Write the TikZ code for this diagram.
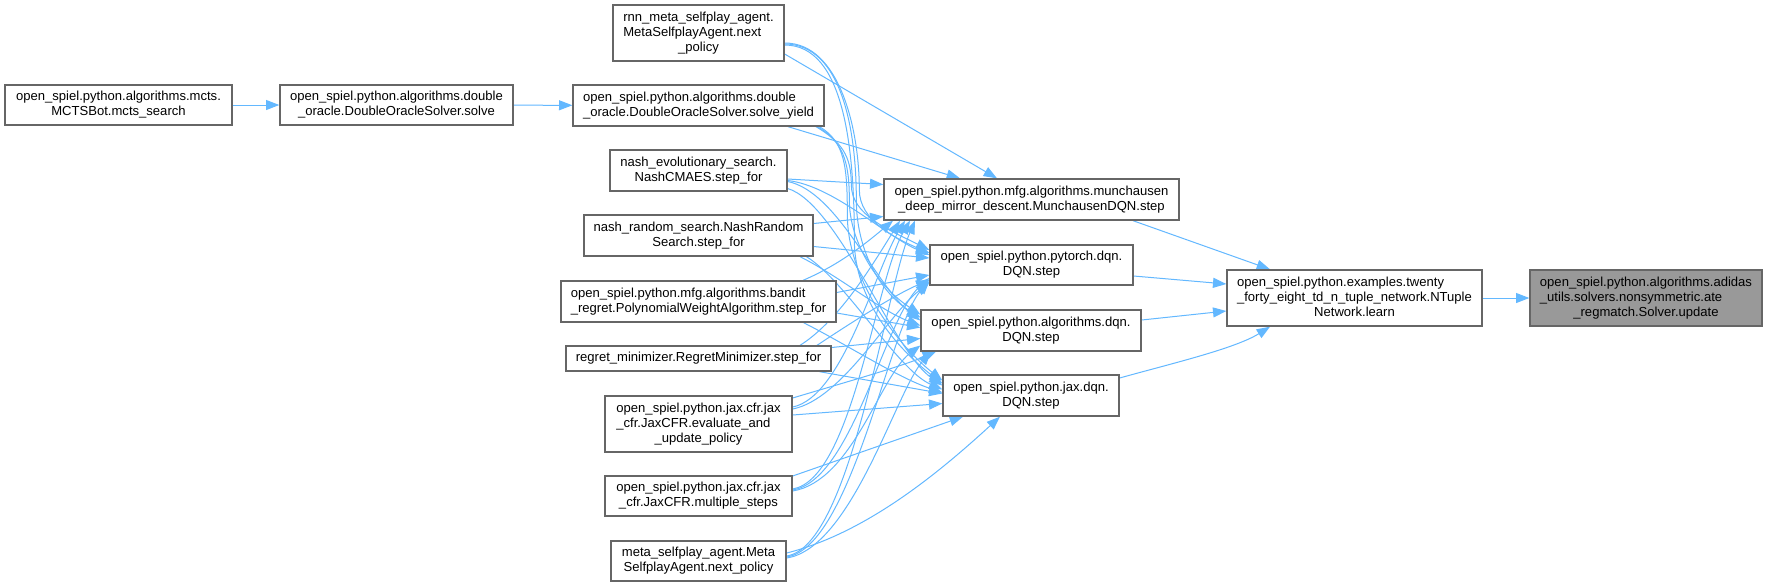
\documentclass[tikz,border=0pt]{standalone}
\usepackage{fontspec}
\setmainfont{Liberation Sans}
\usetikzlibrary{arrows.meta,calc}
\definecolor{edgec}{HTML}{63B8FF}
\definecolor{bordc}{HTML}{666666}
\definecolor{hilite}{HTML}{999999}
\pgfdeclarelayer{back}
\pgfdeclarelayer{edges}
\pgfsetlayers{back,edges,main}
\newcommand\lastline[1]{\multicolumn{1}{@{}c@{}}{#1}}
\newcommand\mknode[7][]{%
  \node[nbox,#1,minimum width={(#5-#3)*0.75pt},minimum height={(#6-#4)*0.75pt}]
    (#2) at ({(#3+#5)/2},{(#4+#6)/2}) {\begin{tabular}{@{}l@{}}#7\end{tabular}};}
\tikzset{
  nbox/.style={draw=bordc, line width=1pt, fill=white, inner sep=0pt, text=black,
    font=\fontsize{9.8pt}{11.25pt}\selectfont},
  e/.style={draw=edgec, line width=0.75pt, -{Triangle[length=10pt,width=7.5pt]}}
}
\begin{document}
\begin{tikzpicture}[x=0.75pt,y=-0.75pt]
\useasboundingbox (0,0) rectangle (1768,587);
\begin{pgfonlayer}{back}
\fill[white] (0,0) rectangle (1768,587);
\end{pgfonlayer}
% nodes
\mknode{mcts}{5}{85}{232}{125}{open\_spiel.python.algorithms.mcts.\\\lastline{MCTSBot.mcts\_search}}
\mknode{solve}{280}{85}{513}{125}{open\_spiel.python.algorithms.double\\\lastline{\_oracle.DoubleOracleSolver.solve}}
\mknode{syield}{573}{85}{824}{126}{open\_spiel.python.algorithms.double\\\lastline{\_oracle.DoubleOracleSolver.solve\_yield}}
\mknode{rnn}{613}{5}{784}{61}{rnn\_meta\_selfplay\_agent.\\MetaSelfplayAgent.next\\\lastline{\_policy}}
\mknode{nevo}{610}{150}{787}{191}{nash\_evolutionary\_search.\\\lastline{NashCMAES.step\_for}}
\mknode{nrand}{584}{215}{813}{256}{nash\_random\_search.NashRandom\\\lastline{Search.step\_for}}
\mknode{bandit}{561}{281}{836}{322}{open\_spiel.python.mfg.algorithms.bandit\\\lastline{\_regret.PolynomialWeightAlgorithm.step\_for}}
\mknode{regret}{566}{346}{831}{371}{\lastline{regret\_minimizer.RegretMinimizer.step\_for}}
\mknode{jcfre}{605}{396}{792}{452}{open\_spiel.python.jax.cfr.jax\\\_cfr.JaxCFR.evaluate\_and\\\lastline{\_update\_policy}}
\mknode{jcfrm}{605}{476}{792}{516}{open\_spiel.python.jax.cfr.jax\\\lastline{\_cfr.JaxCFR.multiple\_steps}}
\mknode{meta}{611}{541}{786}{581}{meta\_selfplay\_agent.Meta\\\lastline{SelfplayAgent.next\_policy}}
\mknode{munch}{884}{179}{1179}{220}{open\_spiel.python.mfg.algorithms.munchausen\\\lastline{\_deep\_mirror\_descent.MunchausenDQN.step}}
\mknode{ptdqn}{930}{245}{1133}{285}{open\_spiel.python.pytorch.dqn.\\\lastline{DQN.step}}
\mknode{aldqn}{921}{310}{1141}{351}{open\_spiel.python.algorithms.dqn.\\\lastline{DQN.step}}
\mknode{jxdqn}{943}{375}{1119}{416}{open\_spiel.python.jax.dqn.\\\lastline{DQN.step}}
\mknode{ntuple}{1227}{270}{1482}{326}{open\_spiel.python.examples.twenty\\\_forty\_eight\_td\_n\_tuple\_network.NTuple\\\lastline{Network.learn}}
\mknode[fill=hilite]{update}{1530}{270}{1762}{326}{open\_spiel.python.algorithms.adidas\\\_utils.solvers.nonsymmetric.ate\\\lastline{\_regmatch.Solver.update}}
\begin{pgfonlayer}{edges}
% chain edges
\draw[e] (mcts) -- (solve);
\draw[e] (solve) -- (syield);
\draw[e] (ntuple) -- (update);
\draw[e] ($(munch.south)+(101.5,0)$) -- ($(ntuple.north)+(-84.5,0)$);
\draw[e] ($(ptdqn.east)+(0,11)$) -- ($(ntuple.west)+(0,-14)$);
\draw[e] ($(aldqn.east)+(0,-10.5)$) -- ($(ntuple.west)+(0,13)$);
\draw[e] ($(jxdqn.east)+(0,-17.5)$) .. controls +(50,-14) and +(-35,22) .. ($(ntuple.south)+(-84.5,0)$);
% rnn
\draw[e] ($(rnn.east)+(0,21)$) -- ($(munch.north)+(-34.5,0)$);
\draw[e] ($(rnn.east)+(0,10)$) .. controls +(55,0) and +(0,-60) .. ($(munch.west)+(-24,-9.5)$)
   .. controls +(0,30) and +(-35,-15) .. ($(ptdqn.west)+(0,-12)$);
\draw[e] ($(rnn.east)+(0,11)$) .. controls +(57,0) and +(0,-70) .. ($(munch.west)+(-27,0.5)$)
   .. controls +(0,50) and +(-40,-25) .. ($(aldqn.west)+(0,-13)$);
\draw[e] ($(rnn.east)+(0,12)$) .. controls +(60,0) and +(0,-90) .. ($(munch.west)+(-29,40.5)$)
   .. controls +(0,60) and +(-45,-35) .. ($(jxdqn.west)+(0,-12)$);
% solve_yield
\draw[e] ($(syield.south)+(89.5,0)$) -- ($(munch.north)+(-71.5,0)$);
\draw[e] ($(syield.south)+(117.5,0)$) .. controls +(25,15) and +(0,-30) .. ($(munch.west)+(-32,-14.5)$)
   .. controls +(0,30) and +(-40,-20) .. ($(ptdqn.west)+(0,-15)$);
\draw[e] ($(syield.south)+(119,0)$) .. controls +(25,15) and +(0,-40) .. ($(munch.west)+(-34,0.5)$)
   .. controls +(0,40) and +(-45,-30) .. ($(aldqn.west)+(0,-16)$);
\draw[e] ($(syield.south)+(121,0)$) .. controls +(25,15) and +(0,-50) .. ($(munch.west)+(-36,15.5)$)
   .. controls +(0,60) and +(-50,-40) .. ($(jxdqn.west)+(0,-15)$);
% nash evolutionary
\draw[e] ($(nevo.east)+(0,8.5)$) -- ($(munch.west)+(0,-15)$);
\draw[e] ($(nevo.east)+(0,10)$) .. controls +(45,5) and +(-45,-20) .. ($(ptdqn.west)+(0,-10)$);
\draw[e] ($(nevo.east)+(0,11)$) .. controls +(50,10) and +(-45,-35) .. ($(aldqn.west)+(0,-10)$);
\draw[e] ($(nevo.east)+(0,18)$) .. controls +(50,15) and +(-50,-35) .. ($(jxdqn.west)+(0,-10)$);
% nash random
\draw[e] ($(nrand.east)+(0,-12)$) -- ($(munch.west)+(0,17)$);
\draw[e] ($(nrand.east)+(0,11)$) -- ($(ptdqn.west)+(0,-7)$);
\draw[e] ($(nrand.south)+(101.5,0)$) .. controls +(40,20) and +(-40,-15) .. ($(aldqn.west)+(0,-5)$);
\draw[e] ($(nrand.south)+(108,0)$) .. controls +(40,25) and +(-45,-20) .. ($(jxdqn.west)+(0,-6)$);
% bandit
\draw[e] ($(bandit.north)+(104.5,0)$) .. controls +(35,-15) and +(-30,25) .. ($(munch.south)+(-138.5,0)$);
\draw[e] ($(bandit.east)+(0,-9)$) -- ($(ptdqn.west)+(0,10)$);
\draw[e] ($(bandit.east)+(0,11.5)$) -- ($(aldqn.west)+(0,-3)$);
\draw[e] ($(bandit.south)+(105,0)$) .. controls +(40,20) and +(-45,-15) .. ($(jxdqn.west)+(0,-3)$);
% regret
\draw[e] ($(regret.north)+(101.5,0)$) .. controls +(40,-25) and +(-25,40) .. ($(munch.south)+(-131.5,0)$);
\draw[e] ($(regret.north)+(118.5,0)$) .. controls +(30,-20) and +(-35,15) .. ($(ptdqn.west)+(0,15)$);
\draw[e] ($(regret.east)+(0,-11)$) -- ($(aldqn.west)+(0,8)$);
\draw[e] ($(regret.south)+(121,0)$) -- ($(jxdqn.west)+(0,-2)$);
% jax cfr evaluate
\draw[e] ($(jcfre.east)+(0,-17)$) .. controls +(50,-10) and +(-30,50) .. ($(munch.south)+(-126.5,0)$);
\draw[e] ($(jcfre.east)+(0,-15)$) .. controls +(50,-10) and +(-40,30) .. ($(ptdqn.west)+(0,18)$);
\draw[e] ($(jcfre.east)+(0,-26)$) .. controls +(50,-15) and +(-35,15) .. ($(aldqn.south)+(-95,0)$);
\draw[e] ($(jcfre.east)+(0,-9)$) -- ($(jxdqn.west)+(0,8)$);
% jax cfr multiple steps
\draw[e] ($(jcfrm.east)+(0,-7)$) .. controls +(60,-10) and +(-35,60) .. ($(munch.south)+(-121.5,0)$);
\draw[e] ($(jcfrm.east)+(0,-6)$) .. controls +(60,-10) and +(-45,40) .. ($(ptdqn.west)+(0,13)$);
\draw[e] ($(jcfrm.east)+(0,-5)$) .. controls +(60,-10) and +(-40,30) .. ($(aldqn.west)+(0,15)$);
\draw[e] ($(jcfrm.east)+(0,-20)$) -- ($(jxdqn.south)+(-68,0)$);
% meta selfplay
\draw[e] ($(meta.east)+(0,-5)$) .. controls +(65,-10) and +(-30,70) .. ($(munch.south)+(-116.5,0)$);
\draw[e] ($(meta.east)+(0,-4)$) .. controls +(65,-10) and +(-40,45) .. ($(ptdqn.west)+(0,16)$);
\draw[e] ($(meta.east)+(0,-3)$) .. controls +(65,-10) and +(-35,40) .. ($(aldqn.south)+(-100,0)$);
\draw[e] ($(meta.east)+(0,-8)$) .. controls +(80,-20) and +(-60,55) .. ($(jxdqn.south)+(-31,0)$);
\end{pgfonlayer}
\end{tikzpicture}
\end{document}
